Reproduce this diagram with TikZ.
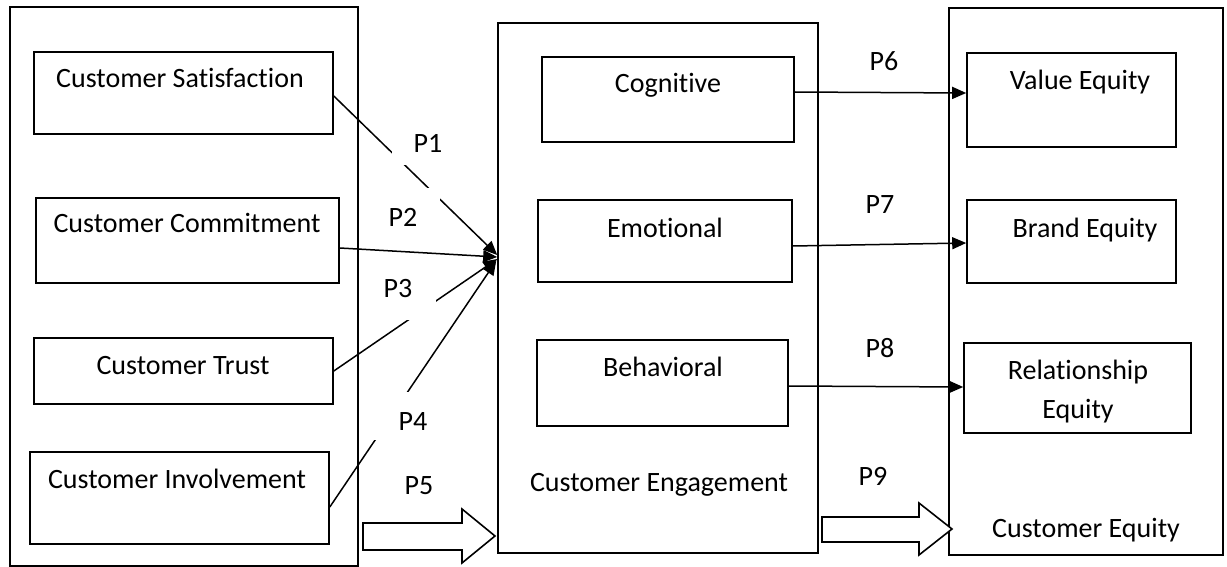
\documentclass[tikz,border=0pt]{standalone}
\usepackage{fontspec}
\setmainfont{Carlito}[Ligatures=NoCommon]
\usetikzlibrary{arrows.meta,fit}
\begin{document}
\begin{tikzpicture}[x=1pt,y=-1pt,
  box/.style={draw, line width=1.6pt, inner sep=0pt},
  txt/.style={font=\fontsize{28}{33}\selectfont, inner sep=0pt, anchor=base},
  conn/.style={line width=1.5pt, -{Triangle[length=14pt,width=12pt]}},
  blockarrow/.style={draw, line width=1.6pt, fill=white, line join=miter},
  gapfill/.style={fill=white}
]
\useasboundingbox (0,0) rectangle (1227,567);

% outer boxes
\node[box, fit={(10,7)(358,566)}] (left) {};
\node[box, fit={(498,23)(818,553)}] (eng) {};
\node[box, fit={(949,8)(1223,555)}] (equity) {};

% left inner boxes
\node[box, fit={(34,52)(333,134)}] (cs) {};
\node[box, fit={(36,198)(339,283)}] (cc) {};
\node[box, fit={(34,338)(333,404)}] (ct) {};
\node[box, fit={(30,452)(329,544)}] (ci) {};

% middle inner boxes
\node[box, fit={(542,57)(794,142)}] (cog) {};
\node[box, fit={(538,200)(792,282)}] (emo) {};
\node[box, fit={(537,340)(788,426)}] (beh) {};

% right inner boxes
\node[box, fit={(967,53)(1176,147)}] (ve) {};
\node[box, fit={(967,200)(1176,283)}] (be) {};
\node[box, fit={(964,343)(1191,433)}] (re) {};

% texts
\node[txt] (tcs) at (180,88) {Customer Satisfaction};
\node[txt] (tcc) at (187,233) {Customer Commitment};
\node[txt] (tct) at (183,374) {Customer Trust};
\node[txt] (tci) at (177,488) {Customer Involvement};
\node[txt] (tcog) at (668,93) {Cognitive};
\node[txt] (temo) at (665,237) {Emotional};
\node[txt] (tbeh) at (663,376) {Behavioral};
\node[txt] (teng) at (659,491) {Customer Engagement};
\node[txt] (tve) at (1080,90) {Value Equity};
\node[txt] (tbe) at (1085,237) {Brand Equity};
\node[txt] (tre1) at (1078,379) {Relationship};
\node[txt] (tre2) at (1078,418) {Equity};
\node[txt] (teq) at (1086,537) {Customer Equity};

% connectors into engagement
\draw[conn] ([yshift=-3pt]cs.east) -- ([yshift=33pt]eng.west);
\draw[conn] ([yshift=-7.5pt]cc.east) -- ([yshift=31pt]eng.west);
\draw[conn] (ct.east) -- ([yshift=29pt]eng.west);
\draw[conn] ([yshift=-9pt]ci.east) -- ([yshift=27pt,xshift=-1pt]eng.west);

% gaps where label boxes hide the lines
\fill[gapfill] (392,128) rectangle (464,165);
\fill[gapfill] (380,188) rectangle (440,244);
\fill[gapfill] (370,268) rectangle (436,320);
\fill[gapfill] (365,392) rectangle (450,440);

% connectors to equity
\draw[conn] ([yshift=7.5pt]cog.east) -- ([yshift=7pt]ve.west);
\draw[conn] ([yshift=-5pt]emo.east) -- ([yshift=-1.5pt]be.west);
\draw[conn] ([yshift=-3pt]beh.east) -- ([yshift=1pt]re.west);

% block arrows
\draw[blockarrow] (363,523) -- (462,523) -- (462,509) -- (495,536) -- (462,563) -- (462,550) -- (363,550) -- cycle;
\draw[blockarrow] (822,517) -- (919,517) -- (919,503) -- (952,529) -- (919,555) -- (919,542) -- (822,542) -- cycle;

% labels
\node[txt] (p1) at (428,153) {P1};
\node[txt] (p2) at (403,226) {P2};
\node[txt] (p3) at (398,297) {P3};
\node[txt] (p4) at (413,430) {P4};
\node[txt] (p5) at (419,494) {P5};
\node[txt] (p6) at (884,71) {P6};
\node[txt] (p7) at (880,213) {P7};
\node[txt] (p8) at (880,357) {P8};
\node[txt] (p9) at (873,485) {P9};
\end{tikzpicture}
\end{document}
